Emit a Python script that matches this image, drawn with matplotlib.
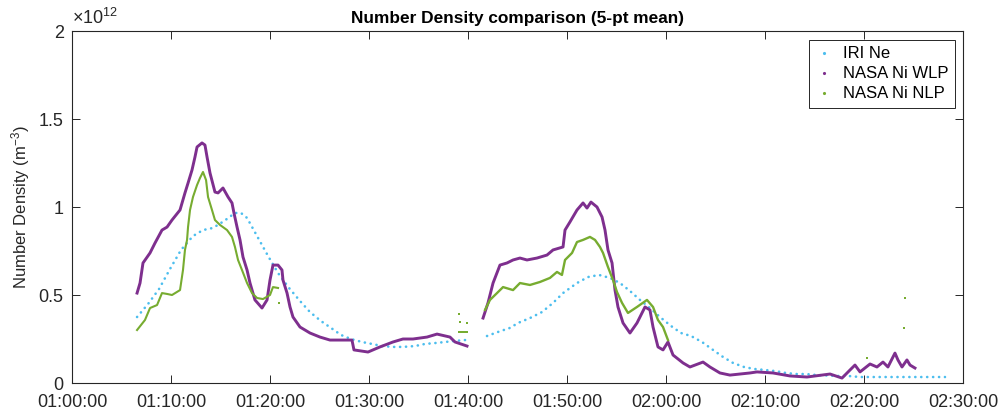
"""Number density comparison: IRI model Ne vs NASA Ni from the wide and narrow Langmuir probes."""

import matplotlib

matplotlib.use("Agg")
import matplotlib.pyplot as plt
import matplotlib.ticker as mticker

# time in minutes after 00:00 UT, density in units of 1e12 m^-3
IRI_T = [66.57, 67.68, 68.79, 69.90, 71.01, 72.22, 73.23, 74.24, 75.35, 76.46, 77.07,
         77.68, 78.69, 79.80, 80.81, 81.92, 83.03, 84.04, 85.15, 86.16, 87.17, 88.18,
         89.29, 90.30, 91.31, 92.42, 93.43, 94.65, 95.66, 96.67, 97.68, 98.69, 99.70]
IRI_NE = [0.375, 0.449, 0.534, 0.648, 0.756, 0.835, 0.869, 0.881, 0.920, 0.966, 0.966,
          0.938, 0.835, 0.722, 0.625, 0.540, 0.466, 0.403, 0.352, 0.313, 0.273, 0.250,
          0.233, 0.222, 0.210, 0.205, 0.205, 0.210, 0.222, 0.227, 0.233, 0.239, 0.244]
IRI_T2 = [101.92, 103.03, 104.24, 105.05, 106.26, 107.47, 108.59, 109.60, 111.01, 112.12,
          113.23, 114.34, 115.35, 116.36, 117.37, 118.38, 119.39, 120.51, 121.52, 122.53,
          123.64, 124.75, 125.76, 126.77, 127.88, 128.89, 130.00, 131.01, 132.12, 133.13,
          134.14, 135.25, 137.37, 138.38, 139.60, 148.18]
IRI_NE2 = [0.267, 0.290, 0.313, 0.341, 0.369, 0.403, 0.455, 0.511, 0.568, 0.602,
           0.614, 0.597, 0.568, 0.523, 0.472, 0.426, 0.375, 0.324, 0.284, 0.267,
           0.233, 0.188, 0.148, 0.114, 0.091, 0.080, 0.074, 0.068, 0.057, 0.051,
           0.051, 0.045, 0.040, 0.040, 0.034, 0.034]

WLP_T = [66.57, 66.87, 67.17, 67.88, 68.38, 69.09, 69.60, 70.10, 70.91, 71.41, 71.72,
         72.12, 72.42, 72.63, 73.13, 73.43, 73.64, 73.94, 74.44, 74.75, 75.25, 75.76,
         76.16, 76.36, 76.67, 76.97, 77.27, 77.68, 77.98, 78.48, 79.19, 79.70, 80.00,
         80.30, 80.81, 81.21, 81.31, 81.72, 82.02, 82.32, 83.03, 84.04, 85.05, 86.06,
         88.28, 88.48, 89.90, 90.40, 91.11, 92.42, 93.43, 94.44, 95.86, 96.87, 98.18,
         98.69, 99.90]
WLP_NI = [0.511, 0.568, 0.682, 0.739, 0.795, 0.869, 0.886, 0.926, 0.983, 1.080, 1.136,
          1.210, 1.284, 1.341, 1.364, 1.352, 1.284, 1.193, 1.085, 1.080, 1.108, 1.057,
          1.023, 0.966, 0.886, 0.813, 0.716, 0.642, 0.568, 0.472, 0.426, 0.472, 0.585,
          0.670, 0.670, 0.642, 0.585, 0.511, 0.432, 0.375, 0.318, 0.284, 0.261, 0.244,
          0.244, 0.188, 0.176, 0.188, 0.205, 0.233, 0.250, 0.250, 0.261, 0.278, 0.261,
          0.233, 0.210]
WLP_T2 = [101.52, 102.02, 102.53, 103.23, 103.94, 104.55, 105.25, 105.96, 106.97, 107.98,
          108.59, 109.60, 109.80, 110.30, 111.01, 111.62, 112.02, 112.42, 113.03, 113.54,
          113.84, 114.14, 114.55, 114.85, 115.15, 115.66, 116.36, 117.07, 117.88, 118.38,
          118.69, 119.19, 119.70, 120.20, 120.71, 121.72, 122.42, 123.74, 124.44, 125.45,
          126.46, 128.48, 129.19, 130.81, 132.53, 134.24, 136.57, 137.78, 138.59, 139.09,
          139.60, 140.61, 141.31, 141.92, 142.42, 143.13, 143.43, 143.84, 144.34, 144.65,
          145.15]
WLP_NI2 = [0.369, 0.455, 0.568, 0.670, 0.682, 0.699, 0.710, 0.699, 0.710, 0.727,
           0.756, 0.773, 0.869, 0.915, 0.983, 1.023, 0.994, 1.028, 1.000, 0.943,
           0.869, 0.756, 0.682, 0.528, 0.432, 0.341, 0.284, 0.341, 0.432, 0.415,
           0.318, 0.205, 0.188, 0.233, 0.159, 0.114, 0.091, 0.119, 0.091, 0.057,
           0.045, 0.057, 0.063, 0.057, 0.040, 0.034, 0.051, 0.028, 0.074, 0.102,
           0.063, 0.108, 0.091, 0.119, 0.091, 0.170, 0.131, 0.091, 0.131, 0.102,
           0.085]

NLP_T = [66.57, 67.37, 67.88, 68.59, 69.09, 69.60, 70.10, 70.91, 71.21, 71.41, 71.62,
         71.72, 71.92, 72.22, 72.63, 72.93, 73.23, 73.54, 73.74, 74.14, 74.44, 74.95,
         75.66, 76.16, 76.46, 76.77, 77.17, 77.68, 78.18, 78.69, 79.29, 80.00, 80.30,
         80.81]
NLP_NI = [0.301, 0.358, 0.426, 0.443, 0.511, 0.506, 0.500, 0.528, 0.642, 0.756, 0.813,
          0.886, 0.983, 1.057, 1.125, 1.165, 1.199, 1.153, 1.057, 0.983, 0.926, 0.898,
          0.869, 0.830, 0.773, 0.699, 0.642, 0.568, 0.511, 0.483, 0.477, 0.500, 0.545,
          0.540]
NLP_T2 = [101.72, 102.22, 102.93, 103.54, 104.55, 105.25, 106.26, 107.27, 108.28, 108.99,
          109.49, 109.80, 110.51, 111.01, 111.62, 112.32, 112.83, 113.33, 113.64, 114.14,
          114.65, 115.05, 115.56, 116.16, 117.07, 118.08, 118.69, 119.19, 119.70, 120.20]
NLP_NI2 = [0.415, 0.472, 0.511, 0.545, 0.528, 0.568, 0.557, 0.574, 0.597, 0.631,
           0.614, 0.699, 0.739, 0.801, 0.813, 0.830, 0.813, 0.773, 0.739, 0.659,
           0.585, 0.517, 0.455, 0.398, 0.432, 0.472, 0.432, 0.358, 0.318, 0.244]
# scattered narrow-probe samples outside the main passes
NLP_PTS_T = [80.91, 99.09, 99.29, 99.49, 99.70, 99.90, 99.09, 99.19, 99.90, 140.30,
             144.04, 144.14]
NLP_PTS_NI = [0.455, 0.290, 0.290, 0.290, 0.290, 0.290, 0.392, 0.347, 0.341, 0.142,
              0.313, 0.483]

XTICKS = [60, 70, 80, 90, 100, 110, 120, 130, 140, 150]
YTICKS = [0, 0.5, 1, 1.5, 2]

C_IRI = "#4DBEEE"
C_WLP = "#7E2F8E"
C_NLP = "#77AC30"
AX_COL = "#262626"

plt.rcParams["font.family"] = ["Liberation Sans", "DejaVu Sans"]
plt.rcParams["mathtext.fontset"] = "custom"
plt.rcParams["mathtext.rm"] = "Liberation Sans"
plt.rcParams["mathtext.it"] = "Liberation Sans"


def hms(v, _):
    total = int(round(v * 60))
    return f"{total // 3600:02d}:{(total % 3600) // 60:02d}:{total % 60:02d}"


fig = plt.figure(figsize=(10.03, 4.15), dpi=100)
ax = fig.add_axes([0.0718, 0.0771, 0.8883, 0.8482])

dots = dict(linestyle=(0, (0.05, 2.2)), dash_capstyle="round", linewidth=1.9, color=C_IRI)
ax.plot(IRI_T, IRI_NE, **dots)
ax.plot(IRI_T2, IRI_NE2, **dots)

ax.plot(WLP_T, WLP_NI, color=C_WLP, linewidth=2.1, solid_joinstyle="round")
ax.plot(WLP_T2, WLP_NI2, color=C_WLP, linewidth=2.1, solid_joinstyle="round")

ax.plot(NLP_T, NLP_NI, color=C_NLP, linewidth=1.5, solid_joinstyle="round")
ax.plot(NLP_T2, NLP_NI2, color=C_NLP, linewidth=1.7, solid_joinstyle="round")
ax.plot(NLP_PTS_T, NLP_PTS_NI, linestyle="none", marker="s", markersize=1.6,
        color=C_NLP, markeredgewidth=0)

# legend entries drawn as single small dots
h_iri, = ax.plot([], [], ".", color=C_IRI, markersize=2.5)
h_wlp, = ax.plot([], [], ".", color=C_WLP, markersize=2.5)
h_nlp, = ax.plot([], [], ".", color=C_NLP, markersize=2.5)
leg = ax.legend([h_iri, h_wlp, h_nlp], ["IRI Ne", "NASA Ni WLP", "NASA Ni NLP"],
                loc="upper right", bbox_to_anchor=(0.991, 0.975), fontsize=12,
                fancybox=False, framealpha=1, edgecolor=AX_COL, handlelength=1.0,
                handletextpad=0.6, borderpad=0.4, labelspacing=0.3, borderaxespad=0)
leg.get_frame().set_linewidth(0.7)

ax.set_xlim(60, 150)
ax.set_ylim(0, 2)
ax.set_xticks(XTICKS)
ax.set_yticks(YTICKS)
ax.xaxis.set_major_formatter(mticker.FuncFormatter(hms))
ax.yaxis.set_major_formatter(mticker.FuncFormatter(lambda v, _: f"{v:g}"))
ax.tick_params(direction="in", length=6, width=0.7, colors=AX_COL, labelsize=13,
               top=True, right=True)
ax.tick_params(axis="x", pad=8)
ax.tick_params(axis="y", pad=6)
for s in ax.spines.values():
    s.set_color(AX_COL)
    s.set_linewidth(0.8)

ax.text(0.0, 1.008, r"$\times10^{12}$", transform=ax.transAxes, fontsize=13,
        color=AX_COL, ha="left", va="bottom")
ax.set_ylabel(r"Number Density (m$^{-3}$)", fontsize=12, color=AX_COL, labelpad=5)
ax.set_title("Number Density comparison (5-pt mean)", fontsize=12.4, fontweight="bold",
             color="black", pad=6)

fig.savefig("out.png", dpi=100)
